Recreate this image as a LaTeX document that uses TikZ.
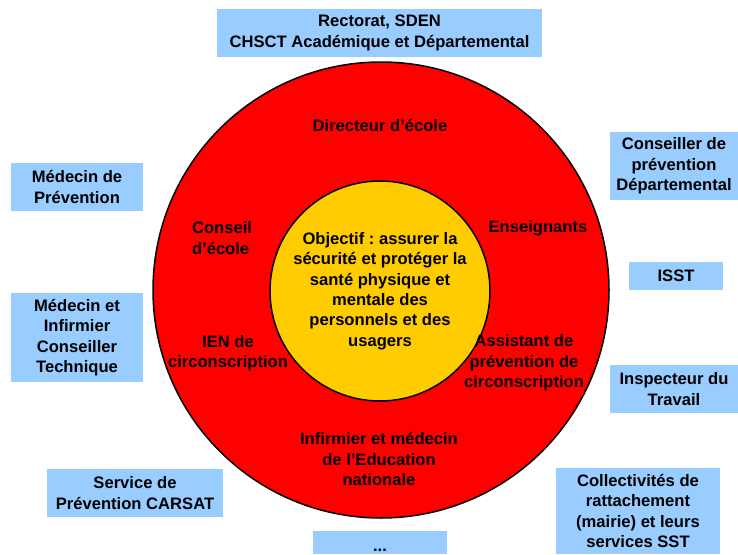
\documentclass[tikz,border=0pt]{standalone}
\usepackage{fontspec}
\setmainfont{Liberation Sans}
\frenchspacing
\definecolor{boxblue}{HTML}{99CCFF}
\definecolor{ringred}{HTML}{FF0000}
\definecolor{coreyellow}{HTML}{FFCC00}
\tikzset{
  partner/.style={fill=boxblue, align=center, inner sep=0pt},
  actor/.style={align=center, inner sep=0pt},
  disc/.style={circle, draw=black, line width=1.5pt, inner sep=0pt},
}

\begin{document}
\begin{tikzpicture}[x=1pt, y=-1pt, font=\bfseries\fontsize{16.6}{20.4}\selectfont]
          \useasboundingbox (0,0) rectangle (738,554);
          % the two rings
          \node[disc, fill=ringred, minimum size=456pt] (ring) at (381,290) {};
          \node[disc, fill=coreyellow, minimum size=220pt] (core) at (380,291) {};
          \node[actor] (objectif) at (core.center) {Objectif : assurer la\\sécurité et protéger la\\santé physique et\\mentale des\\personnels et des\\usagers};
          % actors inside the red ring
          \node[actor] (directeur) at (380,125) {Directeur d’école};
          \node[actor, align=left] (conseil) at (222,238) {Conseil\\d’école};
          \node[actor] (enseignants) at (538,228) {Enseignants};
          \node[actor] (ien) at (228,353) {IEN de\\circonscription};
          \node[actor] (assistant) at (524,363) {Assistant de\\prévention de\\circonscription};
          \node[actor] (infirmier) at (379,459) {Infirmier et médecin\\de l’Education\\nationale};
          % partners around
          \begin{scope}[every node/.append style={partner}]
            \node[minimum width=325pt, minimum height=48pt] (rectorat) at (379.5,33) {Rectorat, SDEN\\CHSCT Académique et Départemental};
            \node[minimum width=132pt, minimum height=48pt] (medprev) at (77,187) {Médecin de\\Prévention};
            \node[minimum width=132pt, minimum height=89pt] (medinf) at (77,337.5) {Médecin et\\Infirmier\\Conseiller\\Technique};
            \node[minimum width=176pt, minimum height=48pt] (carsat) at (135,493) {Service de\\Prévention CARSAT};
            \node[minimum width=134pt, minimum height=23pt, text height=17pt, text depth=0pt, anchor=north] (autres) at (380,531) {...};
            \node[minimum width=164pt, minimum height=86pt] (collect) at (638,511) {Collectivités de\\rattachement\\(mairie) et leurs\\services SST};
            \node[minimum width=128pt, minimum height=68pt] (cpd) at (674,166) {Conseiller de\\prévention\\Départemental};
            \node[minimum width=94pt, minimum height=28pt] (isst) at (676,276) {ISST};
            \node[minimum width=128pt, minimum height=48pt] (inspecteur) at (674,389) {Inspecteur du\\Travail};
          \end{scope}
        \end{tikzpicture}
\end{document}
